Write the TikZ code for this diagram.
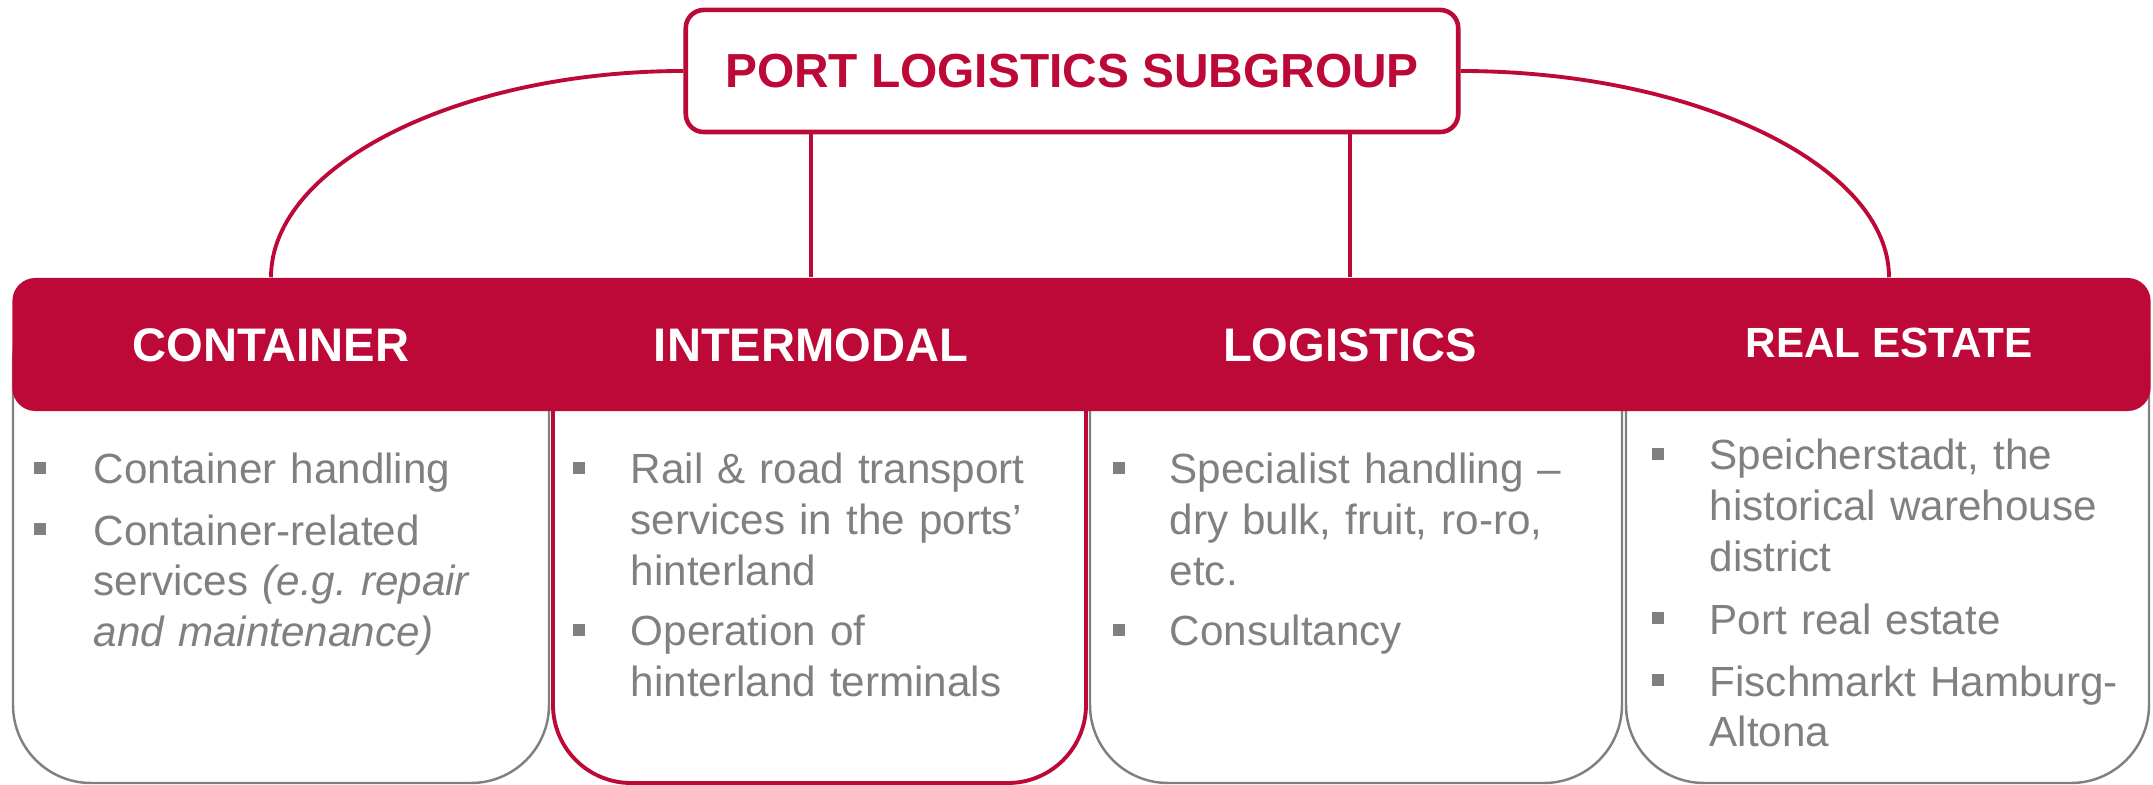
\documentclass[tikz,border=0pt]{standalone}
\usepackage{fontspec}
\setmainfont{Liberation Sans}
\definecolor{hhred}{RGB}{188,9,55}
\definecolor{hhgray}{RGB}{128,128,128}
\tikzset{
  link/.style={draw=hhred, line width=1.1pt},
  colbox/.style={draw=hhgray, line width=0.7pt, rounded corners=0.78cm, fill=white},
  head/.style={text=white, anchor=base, inner sep=0pt,
    font=\bfseries\fontsize{13.4}{16}\selectfont},
  item/.style={text=hhgray, anchor=base west, align=left, text width=4.5cm,
    inner sep=0pt, font=\fontsize{12}{14.5}\selectfont},
  bul/.style={fill=hhgray, minimum size=0.12cm, inner sep=0pt}
}
\begin{document}
\begin{tikzpicture}[x=0.01cm, y=-0.01cm]
  \useasboundingbox (0,0) rectangle (2153,785);
  % the four columns
  \draw[colbox] (13,284) rectangle (549,783)
                (1090,284) rectangle (1622,783)
                (1626,284) rectangle (2149,783);
  \draw[colbox, draw=hhred, line width=1.1pt] (553,284) rectangle (1086,783);
  \node[fill=hhred, rounded corners=0.23cm, inner sep=0pt,
        minimum width=21.37cm, minimum height=1.33cm] (band) at (1081.5,344.5) {};
  \node[head] (container) at (271,362) {CONTAINER};
  \node[head] (intermodal) at (811,362) {INTERMODAL};
  \node[head] (logistics) at (1350,362) {LOGISTICS};
  \node[head, font=\bfseries\fontsize{12}{14}\selectfont] (realestate) at (1889,357.5) {REAL ESTATE};
  % top box and links
  \node[draw=hhred, line width=1.3pt, rounded corners=0.18cm, fill=white,
        minimum width=7.72cm, minimum height=1.22cm, text=hhred,
        font=\bfseries\fontsize{13.6}{16}\selectfont] (pls) at (1072,71) {PORT LOGISTICS SUBGROUP};
  \draw[link] (pls.west) .. controls +(-225,0) and +(0,-112) .. (container |- band.north);
  \draw[link] (pls.east) .. controls +(233,0) and +(0,-112) .. (realestate |- band.north);
  \draw[link] (pls.south -| intermodal) -- (intermodal |- band.north);
  \draw[link] (pls.south -| logistics) -- (logistics |- band.north);
  % bullet items
  \foreach \n/\bx/\x/\y/\txt in {
      c1a/40/93/484/{Container handling},
      c1b/40/93/545/{Container-related\\services {\itshape (e.g.\ repair}\\{\itshape and maintenance)}},
      c2a/579/630/484/{Rail \& road transport\\services in the ports’\\hinterland},
      c2b/579/630/646/{Operation of\\hinterland terminals},
      c3a/1119/1169/484/{Specialist handling --\\dry bulk, fruit, ro-ro,\\etc.},
      c3b/1119/1169/646/{Consultancy},
      c4a/1658/1709/470/{Speicherstadt, the\\historical warehouse\\district},
      c4b/1658/1709/634/{Port real estate},
      c4c/1658/1709/696/{Fischmarkt Hamburg-\\Altona}} {
    \node[item] (\n) at (\x,\y) {\txt};
    \node[bul] (\n-b) at (\bx,\y-16) {};
  }
\end{tikzpicture}
\end{document}
